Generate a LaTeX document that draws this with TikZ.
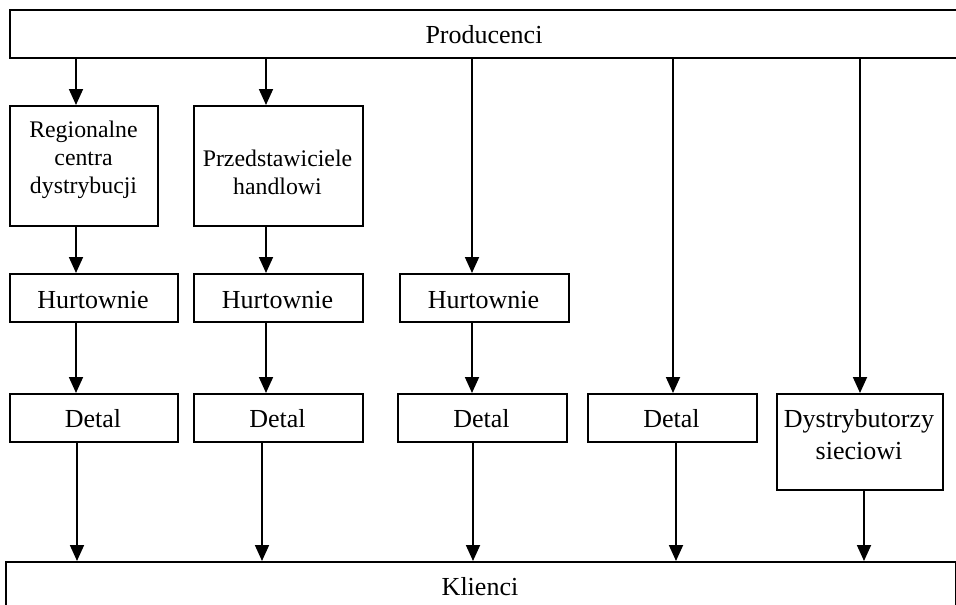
\documentclass[tikz,border=0pt]{standalone}
\usepackage{fontspec}
\setmainfont{Liberation Serif}
\usetikzlibrary{arrows.meta}

\tikzset{
  box/.style={draw, line width=1.8pt, rectangle, inner sep=0pt, anchor=north west},
  txt/.style={inner sep=0pt, anchor=base, font=\fontsize{26}{30}\selectfont},
  txtsmall/.style={inner sep=0pt, anchor=base, text width=170pt, align=center,
                   font=\fontsize{23.8}{28}\selectfont},
  txtmulti/.style={inner sep=0pt, anchor=base, text width=170pt, align=center,
                   font=\fontsize{26}{32}\selectfont},
  arr/.style={line width=1.8pt, -{Triangle[length=16pt,width=14pt]}}
}

\begin{document}
\begin{tikzpicture}[x=1pt, y=-1pt]
  \clip (0,0) rectangle (956,605);
  \fill[white] (0,0) rectangle (956,605);

  % boxes: corner, width, height
  \node[box, minimum width=956pt, minimum height=48pt] (prod) at (9,9) {};
  \node[box, minimum width=148pt, minimum height=120pt] (reg) at (9,105) {};
  \node[box, minimum width=169pt, minimum height=120pt] (prz) at (193,105) {};
  \node[box, minimum width=168pt, minimum height=48pt] (hurt1) at (9,273) {};
  \node[box, minimum width=169pt, minimum height=48pt] (hurt2) at (193,273) {};
  \node[box, minimum width=169pt, minimum height=48pt] (hurt3) at (399,273) {};
  \node[box, minimum width=168pt, minimum height=48pt] (det1) at (9,393) {};
  \node[box, minimum width=169pt, minimum height=48pt] (det2) at (193,393) {};
  \node[box, minimum width=169pt, minimum height=48pt] (det3) at (397,393) {};
  \node[box, minimum width=169pt, minimum height=48pt] (det4) at (587,393) {};
  \node[box, minimum width=166pt, minimum height=96pt] (dys) at (776,393) {};
  \node[box, minimum width=950pt, minimum height=60pt] (kl) at (5,561) {};

  % labels, placed on their baselines
  \node[txt] (tprod) at (484,43) {Producenci};
  \node[txtsmall] (treg) at (83.5,137) {Regionalne\\centra\\dystrybucji};
  \node[txtsmall] (tprz) at (277.5,166) {Przedstawiciele\\handlowi};
  \node[txt] (th1) at (93,308) {Hurtownie};
  \node[txt] (th2) at (277.5,308) {Hurtownie};
  \node[txt] (th3) at (483.5,308) {Hurtownie};
  \node[txt] (td1) at (93,427) {Detal};
  \node[txt] (td2) at (277.5,427) {Detal};
  \node[txt] (td3) at (481.5,427) {Detal};
  \node[txt] (td4) at (671.5,427) {Detal};
  \node[txtmulti] (tdys) at (859,427) {Dystrybutorzy\\sieciowi};
  \node[txt] (tkl) at (480,595) {Klienci};

  % columns of the connectors
  \coordinate (c1) at (76,0);
  \coordinate (c2) at (266,0);
  \coordinate (c3) at (472,0);
  \coordinate (c4) at (673,0);
  \coordinate (c5) at (860,0);
  \coordinate (k1) at (77,0);
  \coordinate (k2) at (262,0);
  \coordinate (k3) at (473,0);
  \coordinate (k4) at (676,0);
  \coordinate (k5) at (864,0);

  % from the producers
  \draw[arr] (prod.south -| c1) -- (reg.north -| c1);
  \draw[arr] (prod.south -| c2) -- (prz.north -| c2);
  \draw[arr] (prod.south -| c3) -- (hurt3.north -| c3);
  \draw[arr] (prod.south -| c4) -- (det4.north -| c4);
  \draw[arr] (prod.south -| c5) -- (dys.north -| c5);

  % intermediate links
  \draw[arr] (reg.south -| c1) -- (hurt1.north -| c1);
  \draw[arr] (prz.south -| c2) -- (hurt2.north -| c2);
  \draw[arr] (hurt1.south -| c1) -- (det1.north -| c1);
  \draw[arr] (hurt2.south -| c2) -- (det2.north -| c2);
  \draw[arr] (hurt3.south -| c3) -- (det3.north -| c3);

  % to the clients
  \draw[arr] (det1.south -| k1) -- (kl.north -| k1);
  \draw[arr] (det2.south -| k2) -- (kl.north -| k2);
  \draw[arr] (det3.south -| k3) -- (kl.north -| k3);
  \draw[arr] (det4.south -| k4) -- (kl.north -| k4);
  \draw[arr] (dys.south -| k5) -- (kl.north -| k5);
\end{tikzpicture}
\end{document}
